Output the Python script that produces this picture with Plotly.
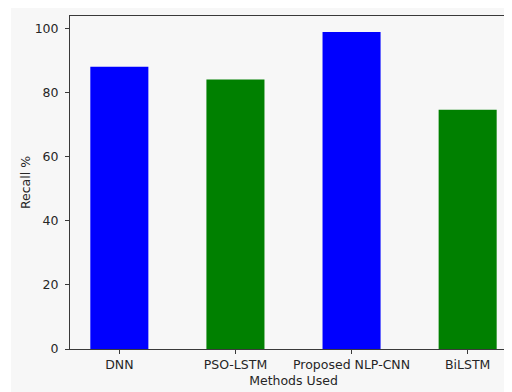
import plotly.graph_objects as go

methods = ["DNN", "PSO-LSTM", "Proposed NLP-CNN", "BiLSTM"]
recall = [88.0, 84.0, 98.8, 74.6]
bar_colors = ["#0000ff", "#008000", "#0000ff", "#008000"]
y_ticks = [0, 20, 40, 60, 80, 100]

font_family = "DejaVu Sans"
line_col = "#3a3a3a"
text_col = "#262626"

fig = go.Figure(
    go.Bar(
        x=list(range(len(methods))),
        y=recall,
        width=0.5,
        marker=dict(color=bar_colors, line=dict(width=0)),
    )
)

fig.update_layout(
    width=512,
    height=392,
    margin=dict(l=62, r=3, t=8, b=51),
    paper_bgcolor="#ffffff",
    plot_bgcolor="#f7f7f7",
    font=dict(family=font_family, size=12.5, color=text_col),
    showlegend=False,
    shapes=[
        dict(
            type="rect", xref="paper", yref="paper",
            x0=-59 / 447, x1=1.2, y0=-0.3, y1=1.1,
            fillcolor="#f7f7f7", line=dict(width=0), layer="below",
        )
    ],
)

fig.update_xaxes(
    range=[-0.425, 3.425],
    tickmode="array",
    tickvals=list(range(len(methods))),
    ticktext=methods,
    showline=True, linecolor=line_col, linewidth=1, mirror=True,
    ticks="outside", ticklen=4, tickcolor=line_col,
    ticklabelstandoff=0,
    showgrid=False, zeroline=False,
    title=dict(text="Methods Used", standoff=5, font=dict(size=12.5)),
    tickfont=dict(size=12.5),
)

fig.update_yaxes(
    range=[0, 103.8],
    tickmode="array",
    tickvals=y_ticks,
    showline=True, linecolor=line_col, linewidth=1,
    ticks="outside", ticklen=4, tickcolor=line_col,
    ticklabelstandoff=4,
    showgrid=False, zeroline=False,
    title=dict(text="Recall %", standoff=1, font=dict(size=12.5)),
    tickfont=dict(size=12.5),
)

fig.write_html("out.html")
